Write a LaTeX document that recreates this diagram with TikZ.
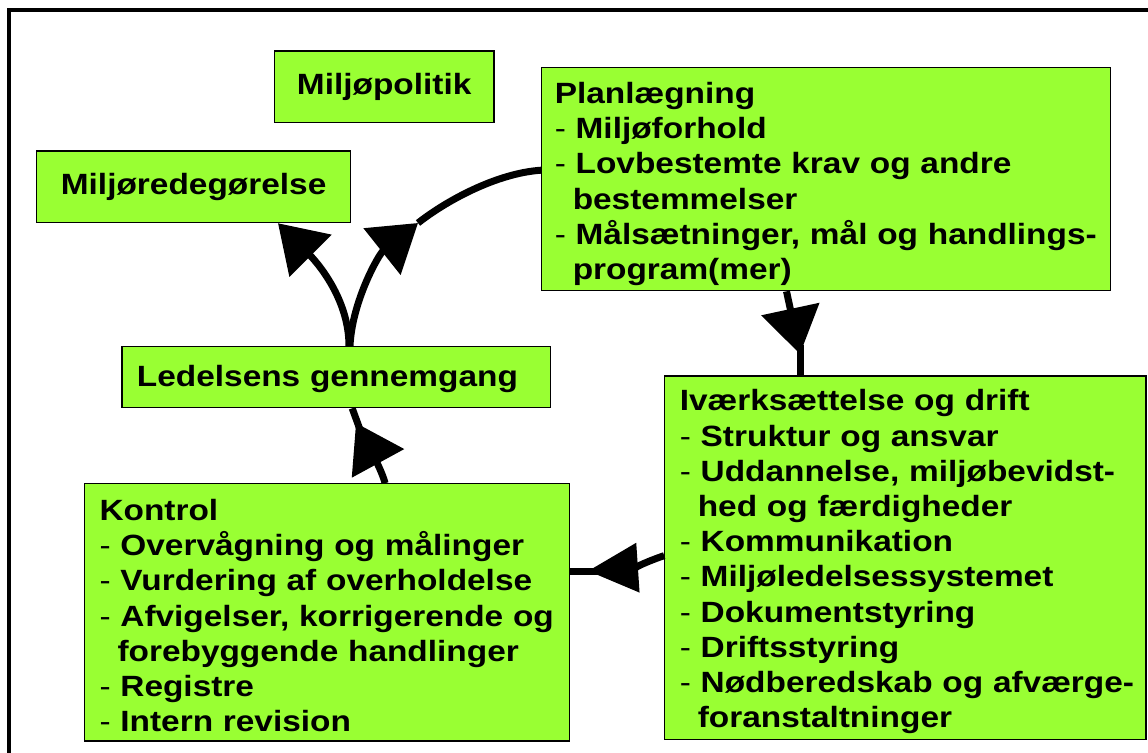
\documentclass[tikz,border=0pt]{standalone}
\usepackage{fontspec}
\setmainfont{Liberation Sans}[FakeStretch=1.14]
\usetikzlibrary{arrows.meta}
\definecolor{boxgreen}{HTML}{99FF33}
\newcommand\dsh{{\mdseries -} }
\newcommand\cnt{\hspace*{18pt}}
\begin{document}
\begin{tikzpicture}[x=1pt,y=-1pt,
  box/.style={draw=black, line width=1.2pt, fill=boxgreen, inner xsep=0pt, inner ysep=0pt,
    font=\fontsize{29.3pt}{35.2pt}\selectfont\bfseries},
  listbox/.style={box, align=left, inner xsep=15pt},
  con/.style={line width=7pt, black},
  arr/.style={con, -{Triangle[length=46pt,width=58pt]}},
  arrb/.style={con, -{Triangle[length=50pt,width=48pt]}},
]
\useasboundingbox (0,0) rectangle (1148,752);
\clip (0,0) rectangle (1148,752);
\fill[white] (0,0) rectangle (1148,752);
\draw[line width=4pt] (9,790) -- (9,10) -- (1190,10);

\node[box, minimum width=219.5pt, minimum height=71.7pt] (pol) at (384.2,86.9) {Miljøpolitik};
\node[box, minimum width=314pt, minimum height=71.7pt] (red) at (193.6,186.8) {Miljøredegørelse};

\node[listbox, inner xsep=13pt, minimum width=568.9pt, minimum height=223pt, text width=542.9pt] (plan) at (826.2,179.2)
{\mbox{\rule{0pt}{31pt}Planlægning}\\
\mbox{\dsh Miljøforhold}\\
\mbox{\dsh Lovbestemte krav og andre}\\
\mbox{\cnt bestemmelser}\\
\mbox{\dsh Målsætninger, mål og handlings-}\\
\mbox{\cnt program(mer)}};

\node[listbox, minimum width=428.5pt, minimum height=61pt, text width=398.5pt] (led) at (336.2,377.2)
{\mbox{\rule{0pt}{24pt}Ledelsens gennemgang}};

\node[listbox, minimum width=485pt, minimum height=257.3pt, text width=455pt] (kon) at (327,612.4)
{\mbox{\rule{0pt}{27.5pt}Kontrol}\\
\mbox{\dsh Overvågning og målinger}\\
\mbox{\dsh Vurdering af overholdelse}\\
\mbox{\dsh Afvigelser, korrigerende og}\\
\mbox{\cnt forebyggende handlinger}\\
\mbox{\dsh Registre}\\
\mbox{\dsh Intern revision}};

\node[listbox, minimum width=481.2pt, minimum height=363.3pt, text width=451.2pt] (ivs) at (905.4,557.65)
{\mbox{\rule{0pt}{29.5pt}Iværksættelse og drift}\\
\mbox{\dsh Struktur og ansvar}\\
\mbox{\dsh Uddannelse, miljøbevidst-}\\
\mbox{\cnt hed og færdigheder}\\
\mbox{\dsh Kommunikation}\\
\mbox{\dsh Miljøledelsessystemet}\\
\mbox{\dsh Dokumentstyring}\\
\mbox{\dsh Driftsstyring}\\
\mbox{\dsh Nødberedskab og afværge-}\\
\mbox{\cnt foranstaltninger}};

% Ledelsens gennemgang -> Miljoredegorelse
\draw[arr] ([xshift=12.8pt]led.north) .. controls +(0,-48) and +(38,38) .. ([xshift=84.4pt]red.south);

% Ledelsens gennemgang -> Planlaegning
\coordinate (t2) at (418,223);
\draw[arr] ([xshift=13.8pt]led.north) .. controls +(2,-45) and +(-39,31) .. (t2);
\draw[con] (t2) .. controls +(27.5,-21.7) and +(-45,3) .. ([yshift=9pt]plan.west);

% Planlaegning -> Ivaerksaettelse
\coordinate (t3) at (800,354);
\draw[arr] ([xshift=-39.7pt]plan.south) -- (t3);
\draw[con] ([yshift=9pt]t3) -- (t3 |- ivs.north);

% Ivaerksaettelse -> Kontrol
\coordinate (t4) at (588,571);
\draw[arrb] ([yshift=2pt]ivs.west) .. controls +(-15,5) and +(45,-3) .. (t4);
\draw[con] ([xshift=10pt]t4) -- (t4 -| kon.east);

% Kontrol -> Ledelsens gennemgang
\coordinate (t5) at (356,423);
\draw[arr] ([xshift=58pt]kon.north) .. controls +(-2,-10) and +(12,22) .. (t5);
\draw[con] ([shift={(4.5pt,-8pt)}]t5) -- ([xshift=16pt]led.south);
\end{tikzpicture}
\end{document}
